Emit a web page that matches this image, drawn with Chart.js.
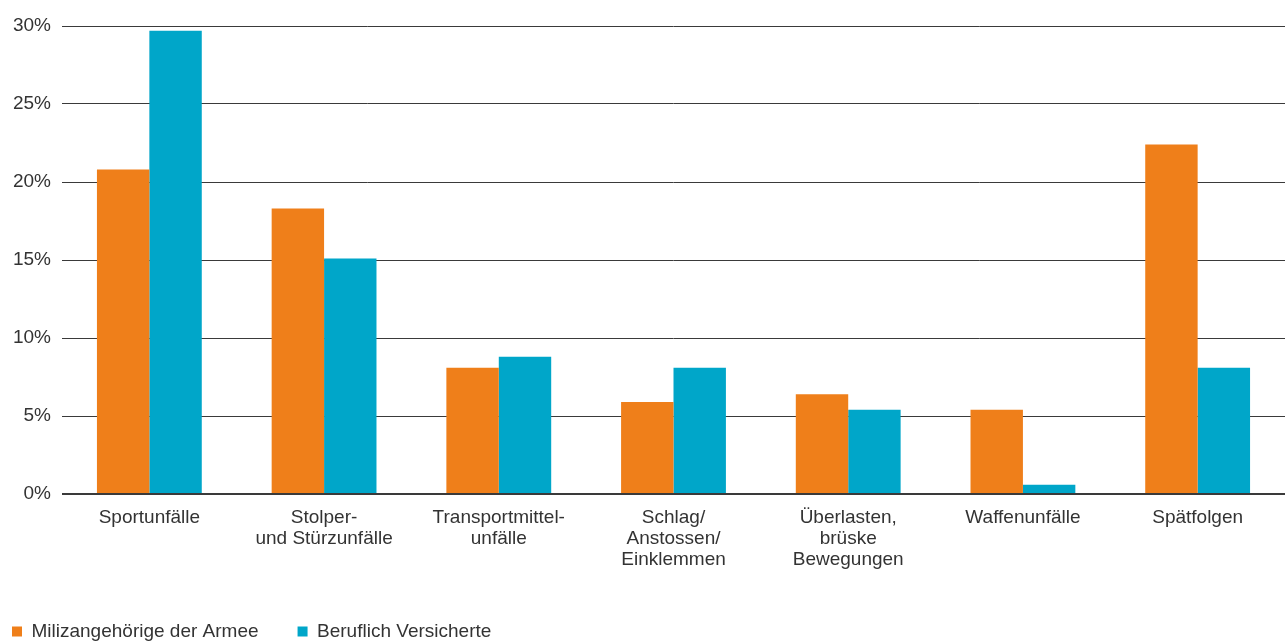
<!DOCTYPE html>
<html lang="de">
<head>
<meta charset="utf-8">
<title>Unfallarten</title>
<script src="https://cdn.jsdelivr.net/npm/chart.js@4/dist/chart.umd.min.js"></script>
<style>
  html, body { margin: 0; padding: 0; background: #fff; }
  #wrap { position: relative; width: 1285px; height: 644px; }
</style>
</head>
<body>
<div id="wrap"><canvas id="chart"></canvas></div>
<script>
// Kategorien (mehrzeilige Beschriftung)
const categories = [
  ['Sportunfälle'],
  ['Stolper-', 'und Stürzunfälle'],
  ['Transportmittel-', 'unfälle'],
  ['Schlag/', 'Anstossen/', 'Einklemmen'],
  ['Überlasten,', 'brüske', 'Bewegungen'],
  ['Waffenunfälle'],
  ['Spätfolgen']
];

// Anteile in %
const miliz = [20.8, 18.3, 8.1, 5.9, 6.4, 5.4, 22.4];
const beruflich = [29.7, 15.1, 8.8, 8.1, 5.4, 0.6, 8.1];

const seriesNames = ['Milizangehörige der Armee', 'Beruflich Versicherte'];
const yTicks = [0, 5, 10, 15, 20, 25, 30];

const colors = ['#ef7f1a', '#00a6c9'];
const textColor = '#333333';
const font = { family: '"Liberation Sans", Arial, Helvetica, sans-serif', size: 19, lineHeight: 1.12 };

const ctx = document.getElementById('chart');

new Chart(ctx, {
  type: 'bar',
  data: {
    labels: categories,
    datasets: [
      {
        label: seriesNames[0],
        data: miliz,
        backgroundColor: colors[0],
        borderWidth: 0,
      },
      {
        label: seriesNames[1],
        data: beruflich,
        backgroundColor: colors[1],
        borderWidth: 0,
      },
    ],
  },
  options: {
    responsive: true,
    maintainAspectRatio: false,
    animation: false,
    layout: {
      // negative Ränder: Legende sitzt tiefer und weiter links
      padding: { top: 26, left: -27, right: 0, bottom: -7 },
    },
    datasets: {
      bar: {
        barPercentage: 1,
        categoryPercentage: 0.6,
      },
    },
    plugins: {
      title: { display: false },
      tooltip: { enabled: false },
      legend: {
        position: 'bottom',
        align: 'start',
        labels: {
          boxWidth: 10,
          boxHeight: 10,
          padding: 39,
          color: textColor,
          font: font,
        },
      },
    },
    scales: {
      x: {
        grid: { display: false, drawTicks: false },
        border: { display: false },
        ticks: {
          color: textColor,
          font: font,
          padding: 13,
          autoSkip: false,
          maxRotation: 0,
          minRotation: 0,
        },
        afterFit: (scale) => {
          scale.height = 89;
        },
      },
      y: {
        min: 0,
        max: 30,
        afterBuildTicks: (scale) => {
          scale.ticks = yTicks.map((v) => ({ value: v }));
        },
        grid: {
          color: '#3a3a3a',
          lineWidth: (c) => (c.tick && c.tick.value === 0 ? 2 : 1),
          drawTicks: false,
        },
        border: { display: false },
        ticks: {
          color: textColor,
          font: font,
          padding: 11,
          callback: (value) => value + '%',
        },
        afterFit: (scale) => {
          scale.width = 89;
        },
      },
    },
  },
});
</script>
</body>
</html>
